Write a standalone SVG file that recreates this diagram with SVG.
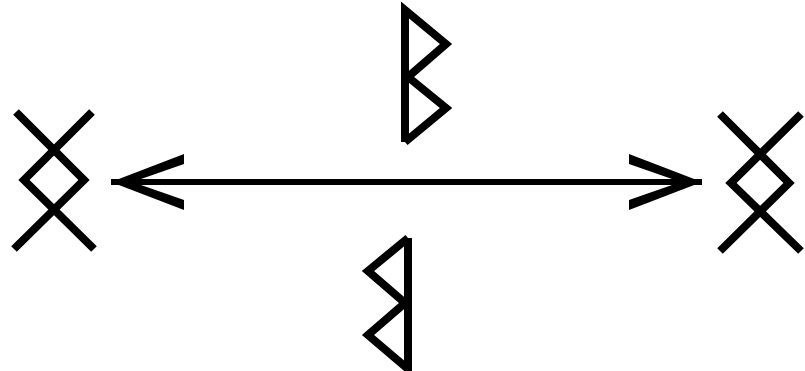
<svg xmlns="http://www.w3.org/2000/svg" width="805" height="371" viewBox="0 0 805 371">
<style>
.rune{fill:none;stroke:#000;stroke-width:8;stroke-linejoin:miter;stroke-linecap:butt}
.shaft{stroke:#000;stroke-width:6;fill:none}
</style>
<defs>
<marker id="head" markerUnits="userSpaceOnUse" viewBox="-75 -32 80 64" refX="0" refY="0" markerWidth="80" markerHeight="64" orient="auto-start-reverse">
<polygon points="0,0 -73,-28 -73,-18 -30,-3 -30,3 -73,18 -73,28" fill="#000"/>
</marker>
</defs>
<rect width="805" height="371" fill="#fff"/>
<g id="ing-left">
<polyline class="rune" points="16,112 84,180 14,249"/>
<polyline class="rune" points="92,112 24,180 94,249"/>
</g>
<g id="ing-right">
<polyline class="rune" points="720,114 789,183 720,251"/>
<polyline class="rune" points="801,114 731,183 801,251"/>
</g>
<g id="berkano-top">
<polyline class="rune" points="405,142 405,10 446,44 408,77 446,108 405,142"/>
</g>
<g id="berkano-bottom">
<polyline class="rune" points="408,238 408,369 368,335 405,303 368,271 408,238"/>
</g>
<g id="connectors">
<line class="shaft" x1="111" y1="182" x2="702" y2="182" marker-start="url(#head)" marker-end="url(#head)"/>
</g>
</svg>
